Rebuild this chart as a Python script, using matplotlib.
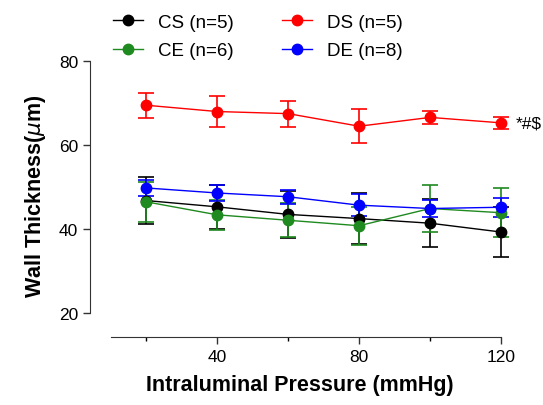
import numpy as np
import matplotlib.pyplot as plt
from matplotlib.lines import Line2D

plt.rcParams['font.family'] = ['Liberation Sans', 'DejaVu Sans']

# pressure steps (mmHg)
pressure = [20, 40, 60, 80, 100, 120]

# wall thickness, mean and error, per group
cs_mean = [46.8, 45.3, 43.5, 42.5, 41.4, 39.3]
cs_err = [5.6, 5.2, 5.6, 6.0, 5.7, 6.0]
ce_mean = [46.5, 43.4, 42.1, 40.8, 44.9, 43.9]
ce_err = [4.8, 3.5, 4.0, 4.5, 5.6, 5.8]
ds_mean = [69.5, 68.0, 67.5, 64.5, 66.6, 65.3]
ds_err = [3.0, 3.6, 3.1, 4.0, 1.6, 1.5]
de_mean = [49.8, 48.6, 47.7, 45.7, 44.9, 45.2]
de_err = [1.8, 1.9, 1.7, 2.6, 2.0, 2.3]

labels = ['CS (n=5)', 'CE (n=6)', 'DS (n=5)', 'DE (n=8)']
colors = ['black', '#1f8a1f', '#ff0000', '#0000ff']

fig = plt.figure(figsize=(5.43, 4.06), dpi=100)
ax = fig.add_axes([90 / 543, 1 - 338 / 406, 420 / 543, 283 / 406])

series = [(cs_mean, cs_err), (ce_mean, ce_err), (ds_mean, ds_err), (de_mean, de_err)]
handles = []
for (m, e), c, lab in zip(series, colors, labels):
    ax.errorbar(pressure, m, yerr=e, color=c, marker='o', markersize=7.5,
                linewidth=1, elinewidth=1.2, capsize=6, capthick=1.2)
    handles.append(Line2D([], [], color=c, marker='o', markersize=7.5,
                          linewidth=1, label=lab))

ax.text(124, ds_mean[-1], '*#$', fontsize=12.5, va='center', ha='left', clip_on=False)

ax.set_xlim(4.2, 122.5)
ax.set_ylim(14.3, 81.7)
ax.spines['top'].set_visible(False)
ax.spines['right'].set_visible(False)
ax.spines['left'].set_bounds(20, 80)
ax.spines['bottom'].set_bounds(10, 120)
ax.spines['left'].set_color('#333333')
ax.spines['bottom'].set_color('#333333')
ax.set_yticks([20, 40, 60, 80])
ax.set_xticks([40, 80, 120])
ax.set_xticks([20, 60, 100], minor=True)
ax.tick_params(axis='both', labelsize=12.5, color='#333333', length=5, width=1)
ax.tick_params(axis='x', which='minor', length=3, width=1)
ax.set_xlabel('Intraluminal Pressure (mmHg)', fontsize=15.5, fontweight='bold', labelpad=7)
ax.set_ylabel('Wall Thickness($\\mu$m)', fontsize=15.5, fontweight='bold', labelpad=8)

fig.legend(handles=handles, loc='upper center', bbox_to_anchor=(0.475, 1.005),
           ncol=2, frameon=False, fontsize=13.5, handlelength=1.6,
           columnspacing=2.6, labelspacing=0.6)

fig.savefig('out.png', dpi=100)
